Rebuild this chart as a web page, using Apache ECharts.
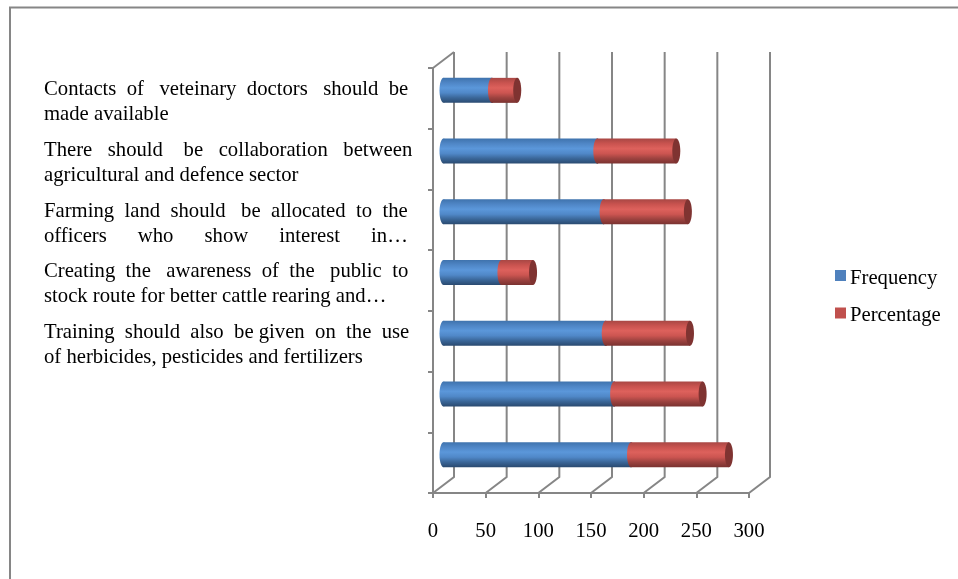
<!DOCTYPE html>
<html><head><meta charset="utf-8">
<style>html,body{margin:0;padding:0;background:#fff}#c{width:958px;height:579px}</style>
<script src="https://cdn.jsdelivr.net/npm/echarts@6/dist/echarts.min.js"></script>
</head><body><div id="c"></div>
<script>
const categories = ['', '',
  'Training should also be given on the use\nof herbicides, pesticides and fertilizers',
  'Creating the awareness of the public to\nstock route for better cattle rearing and…',
  'Farming land should be allocated to the\nofficers who show interest in…',
  'There should be collaboration between\nagricultural and defence sector',
  'Contacts of veteinary doctors should be\nmade available'];
const frequency  = [178, 162, 154, 55, 152, 146, 46];
const percentage = [93, 84, 80, 30, 80, 75, 24];
const xTicks = [0, 50, 100, 150, 200, 250, 300];

const FONT = '"Liberation Serif","Times New Roman",serif';
const FS = 20.7, LABEL_W = 366;
const DX = 21, DY = 16, BAR_H = 25, RX = 4;
const AXIS = '#868686';

const ctx = document.createElement('canvas').getContext('2d');
ctx.font = FS + 'px "Liberation Serif"';
function justify(line) {
  const words = line.split(' ');
  const gaps = words.length - 1;
  if (!gaps) return line;
  const extra = Math.max(0, LABEL_W - ctx.measureText(line).width);
  const n = Math.round(extra / ctx.measureText(' ').width);
  let out = words[0];
  for (let i = 1; i <= gaps; i++) {
    const add = Math.round(n * i / gaps) - Math.round(n * (i - 1) / gaps);
    out += ' '.repeat(1 + add) + words[i];
  }
  return out;
}
function fmtLabel(v) {
  if (!v) return '';
  const p = v.split('\n');
  const second = p[1].startsWith('officers') ? justify(p[1]) : p[1];
  return '{s| }\n{a|' + justify(p[0]) + '}\n{a|' + second + '}';
}
const grad = stops => ({type:'linear',x:0,y:0,x2:0,y2:1,
  colorStops: stops.map((c,i)=>({offset:i/(stops.length-1),color:c}))});
const BLUE = grad(['#3f73ad','#4f86c6','#5b97da','#5088c8','#3a6698','#2a4a70']);
const RED  = grad(['#a84744','#c9534f','#dd615c','#cc5551','#9c423f','#7a3230']);

function barItem(fill, cap) {
  return function (params, api) {
    const cat = api.value(0), a = api.value(1), b = api.value(2);
    const p0 = api.coord([a, cat]), p1 = api.coord([b, cat]);
    const x0 = p0[0] + DX / 2, x1 = p1[0] + DX / 2, y = p0[1] - DY / 2;
    const children = [
      {type:'ellipse', shape:{cx:x0, cy:y, rx:RX, ry:BAR_H/2}, style:{fill}},
      {type:'rect', shape:{x:x0, y:y-BAR_H/2, width:x1-x0, height:BAR_H}, style:{fill}},
      {type:'ellipse', shape:{cx:x1, cy:y, rx:RX, ry:BAR_H/2}, style:{fill: cap || fill}}
    ];
    return {type:'group', children};
  };
}
function wallItem(params, api) {
  const x = api.coord([api.value(0), 0])[0];
  const cs = params.coordSys, bottom = cs.y + cs.height, top = cs.y;
  const style = {stroke:AXIS, lineWidth:2, fill:null};
  const children = [
    {type:'polyline', shape:{points:[[x,bottom],[x+DX,bottom-DY],[x+DX,top-DY]]}, style}
  ];
  if (api.value(0) === xTicks[0]) {
    children.push({type:'line', shape:{x1:x,y1:top,x2:x+DX,y2:top-DY}, style});
  }
  return {type:'group', children};
}

const base = frequency.map((v,i)=>[i,0,v]);
const stack = percentage.map((v,i)=>[i,frequency[i],frequency[i]+v]);

const chart = echarts.init(document.getElementById('c'), null, {renderer:'canvas'});
chart.setOption({
  animation:false,
  backgroundColor:'#fff',
  textStyle:{fontFamily:FONT},
  grid:{left:433, top:68, width:316, height:425},
  legend:{orient:'vertical', left:830, top:263, itemWidth:11, itemHeight:11, itemGap:16.5,
    icon:'rect', data:['Frequency','Percentage'], formatter:n=>'{a|'+n+'}',
    textStyle:{fontFamily:FONT, fontSize:FS, color:'#000',
      rich:{a:{fontFamily:FONT,fontSize:FS,color:'#000',padding:[6,0,0,-1]}}}},
  xAxis:{type:'value', min:0, max:300, interval:50, splitLine:{show:false},
    axisLine:{show:true,lineStyle:{color:AXIS,width:2}},
    axisTick:{show:true,length:5,lineStyle:{color:AXIS,width:2}},
    axisLabel:{margin:28,color:'#000',fontFamily:FONT,fontSize:FS,formatter:v=>String(v)}},
  yAxis:{type:'category', data:categories,
    axisLine:{show:true,onZero:false,lineStyle:{color:AXIS,width:2}},
    axisTick:{show:true,length:5,lineStyle:{color:AXIS,width:2}},
    axisLabel:{interval:0,align:'left',margin:389,color:'#000',fontFamily:FONT,fontSize:FS,formatter:fmtLabel,
      rich:{s:{fontSize:1,lineHeight:8},a:{fontFamily:FONT,fontSize:FS,color:'#000',lineHeight:25}}}},
  series:[
    {type:'custom', name:'walls', silent:true, z:1, renderItem:wallItem, data:xTicks.map(t=>[t]),
      encode:{x:0}, clip:false},
    {type:'custom', name:'Frequency', z:3, renderItem:barItem(BLUE), itemStyle:{color:'#4F81BD'},
      data:base, encode:{y:0,x:[1,2]}, clip:false},
    {type:'custom', name:'Percentage', z:4, renderItem:barItem(RED,'#7f3331'), itemStyle:{color:'#C0504D'},
      data:stack, encode:{y:0,x:[1,2]}, clip:false}
  ],
  graphic:[
    {type:'polyline', silent:true, z:0, shape:{points:[[10,579],[10,7.5],[958,7.5]]},
      style:{stroke:AXIS,lineWidth:2,fill:null}}
  ]
});
</script></body></html>
